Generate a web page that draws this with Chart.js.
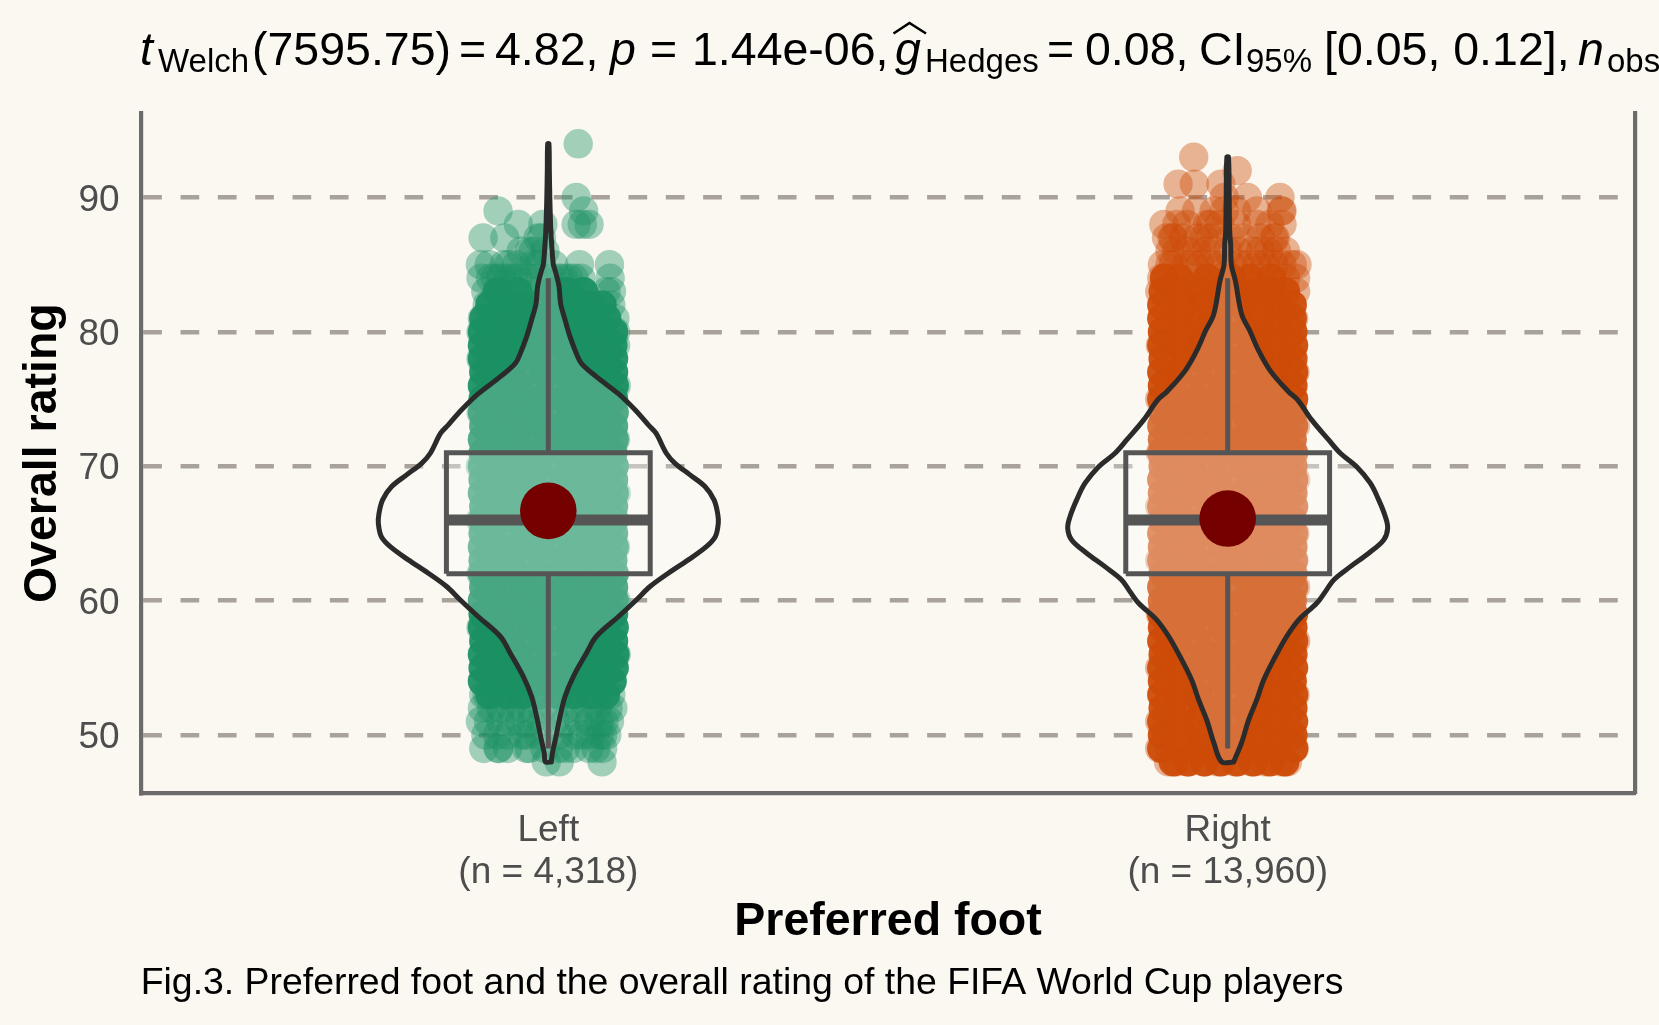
<!DOCTYPE html>
<html>
<head>
<meta charset="utf-8">
<title>Preferred foot and overall rating</title>
<script src="https://cdn.jsdelivr.net/npm/chart.js@4"></script>
<style>
  html, body { margin: 0; padding: 0; width: 1659px; height: 1025px; overflow: hidden; background: #fbf8f1; }
  #chart { position: absolute; left: 0; top: 0; }
  #stats { position: absolute; left: 0; top: 0; width: 1659px; height: 100px; color: #000; font-family: "Liberation Sans", Arial, sans-serif; }
  #stats span { position: absolute; white-space: pre; top: 26px; font-size: 46.5px; line-height: 46px; }
  #stats span.sub { top: 45px; font-size: 33px; line-height: 32px; }
  #stats span.it { font-style: italic; }
  #stats svg { position: absolute; left: 0; top: 0; }
</style>
</head>
<body>
<canvas id="chart" width="1659" height="1025"></canvas>
<div id="stats">
  <span class="it" style="left:140px">t</span><span class="sub" style="left:158px">Welch</span><span style="left:252px">(7595.75)</span> <span style="left:459px">=</span> <span style="left:495px">4.82,</span> <span class="it" style="left:610px">p</span> <span style="left:650px">=</span> <span style="left:692px">1.44e-06,</span> <span class="it" style="left:895px">g</span><span class="sub" style="left:925px">Hedges</span> <span style="left:1047px">=</span> <span style="left:1085px">0.08,</span> <span style="left:1199px">CI</span><span class="sub" style="left:1246px">95%</span> <span style="left:1324px">[0.05, 0.12],</span> <span class="it" style="left:1578px">n</span><span class="sub" style="left:1607px">obs</span>
  <svg width="1659" height="100"><polyline points="893.5,33.5 909.5,23 926,33.5" fill="none" stroke="#000" stroke-width="2.6"/></svg>
</div>
<script>
const yTicks = [50, 60, 70, 80, 90];
const xTicks = [1, 2];
const xTickLabels = [['Left', '(n = 4,318)'], ['Right', '(n = 13,960)']];

const boxLow = [62, 62];
const boxHigh = [71, 71];
const medians = [66, 66];
const means = [66.68, 66.11];
const whiskerLow = [49, 49];
const whiskerHigh = [84, 84];

// violin outline: rating and half width in category units
const leftViolinY = [48, 48.65, 49.89, 51.37, 52.86, 54.35, 56.09, 57.33, 58.8, 60.05, 61.05, 62.04, 63.03, 64.02, 64.77, 65.76, 66.5, 67.5, 68.49, 69.36, 70.22, 70.97, 72.46, 73.08, 74.2, 75.4, 76.67, 77.66, 78.4, 79.65, 80.9, 82.1, 83.4, 84.6, 85, 86.3, 87.5, 90, 92, 94];
const leftViolinHalf = [.0044, .006, .0113, .0172, .0246, .0368, .056, .0706, .103, .1295, .1497, .1766, .206, .2326, .2458, .2502, .2492, .2439, .2306, .2086, .1865, .1737, .1585, .1472, .1276, .103, .0706, .0486, .0412, .0319, .0246, .0181, .0157, .0099, .0074, .0052, .0037, .0022, .0015, .0009];
const rightViolinY = [48, 49.39, 51.13, 52.61, 54.1, 55.84, 57.33, 58.57, 59.8, 60.67, 61.54, 62.53, 63.53, 64.52, 65.39, 66.25, 67.5, 68.74, 69.97, 70.97, 71.96, 73.45, 74.94, 75.6, 77.1, 78.6, 80.1, 81.3, 83.8, 85, 86.5, 87.5, 90, 93];
const rightViolinHalf = [.0088, .0202, .0309, .0427, .053, .0702, .0868, .1045, .131, .1438, .156, .1806, .2075, .2296, .2355, .2321, .2223, .21, .1899, .1659, .1487, .1236, .103, .0885, .0628, .0456, .0324, .0206, .0113, .0054, .0044, .0029, .0022, .0012];

// players, jitter in thousandths of a category. The packed rows overplot to a
// nearly solid colour, so they are drawn with a high alpha
const leftSparseRatings = [94, 90, 89, 88, 87, 86, 85, 84, 83, 82, 81, 80, 79, 78, 76, 74, 72, 70, 68, 66, 64, 62, 60, 58, 56, 53, 52, 51, 50, 49, 48];
const leftSparseJitter = [
  [44], [41], [-74, 52], [-44, -8, 41, 50, 60], [-96, -64, -15, -10], [-40, -28, -22, -5],
  [-100, -87, -65, -58, -47, -22, -14, 8, 46, 90],
  [-99, -85, -78, -70, -60, -52, -45, -30, -22, -12, 5, 15, 22, 30, 38, 48, 91],
  [-92, -66, -15, 15, 45, 85, 93], [-90, 92], [-97, 98], [-99, 99], [99], [-99], [100], [-99], [99], [-100], [100], [-100], [99], [-99], [100], [-99], [100],
  [-95, -90, -70, -48, 20, 70, 92],
  [-97, -84, -70, -55, -40, -25, -8, 8, 30, 45, 60, 72, 88, 95],
  [-100, -88, -70, -55, -42, -25, -10, 10, 25, 45, 60, 75, 82, 90],
  [-92, -75, -60, -38, -32, -15, 15, 40, 50, 62, 75, 80, 86],
  [-95, -74, -73, -60, -32, -28, -5, 15, 25, 37, 60, 70, 80],
  [-3, 16, 79]
];
const leftDenseRatings = [53, 54, 55, 56, 57, 58, 59, 60, 61, 62, 63, 64, 65, 66, 67, 68, 69, 70, 71, 72, 73, 74, 75, 76, 77, 78, 79, 80, 81, 82, 83];
const leftDenseJitter = [
  [-86, -60, -38, -12, 14, 38, 62, 84], [-97, -70, -42, -12, 18, 45, 71, 94],
  [-96, -66, -39, -10, 22, 48, 73, 97], [-97, -72, -44, -15, 16, 43, 70, 98],
  [-95, -68, -36, -8, 24, 50, 75, 96], [-97, -71, -41, -14, 19, 46, 72, 97],
  [-96, -64, -38, -9, 20, 47, 74, 96], [-97, -69, -43, -13, 17, 44, 71, 97],
  [-95, -67, -37, -11, 23, 49, 76, 96], [-97, -73, -45, -16, 15, 42, 69, 97],
  [-96, -65, -40, -7, 21, 48, 72, 95], [-97, -70, -42, -12, 18, 45, 73, 97],
  [-96, -68, -35, -10, 25, 51, 75, 96], [-97, -72, -44, -14, 16, 43, 70, 97],
  [-95, -66, -39, -9, 20, 47, 74, 96], [-97, -71, -41, -13, 19, 46, 72, 97],
  [-96, -67, -38, -8, 22, 50, 76, 96], [-97, -69, -43, -15, 17, 44, 71, 97],
  [-96, -64, -37, -11, 24, 49, 73, 95], [-97, -72, -45, -12, 18, 42, 69, 97],
  [-95, -68, -40, -10, 21, 48, 75, 96], [-97, -70, -36, -14, 16, 45, 72, 97],
  [-96, -65, -42, -9, 23, 47, 74, 96], [-97, -71, -44, -13, 19, 43, 70, 97],
  [-95, -67, -38, -7, 20, 50, 76, 96], [-97, -73, -41, -15, 17, 46, 71, 96],
  [-97, -66, -39, -11, 22, 44, 73, 95], [-97, -69, -43, -12, 18, 48, 74, 96],
  [-95, -68, -37, -10, 21, 45, 68, 86], [-86, -62, -40, -14, 14, 38, 60, 79],
  [-75, -45, 5, 28, 52]
];
const rightSparseRatings = [93, 92, 91, 90, 89, 88, 87, 86, 85, 84, 83, 81, 79, 77, 75, 73, 71, 69, 67, 65, 63, 61, 59, 57, 55, 53, 51, 49, 48];
const rightSparseJitter = [
  [-50], [14], [-73, -49, -10], [-5, 29, 77], [-70, -46, -20, -5, 13, 43, 79, 80],
  [-94, -75, -60, -30, -25, -12, 13, 43, 62, 80], [-90, -82, -80, -65, -45, -35, -25, 5, 25, 48, 68, 70],
  [-85, -75, -60, -45, -32, -20, 0, 15, 37, 48, 60, 72, 85], [-96, -85, -80, -60, -50, -40, -25, -10, 5, 18, 30, 43, 55, 68, 80, 95, 102],
  [-97, -48, -10, 48, 85, 100], [-100, 100], [97], [-99], [99], [-100], [100], [-99], [100], [-100], [99], [-100], [100], [-99], [100], [-100], [99], [-100],
  [-100, -85, 98], [-87, -75, -60, -35, -15, 10, 35, 55, 78, 88]
];
const rightDenseRatings = [48, 49, 50, 51, 52, 53, 54, 55, 56, 57, 58, 59, 60, 61, 62, 63, 64, 65, 66, 67, 68, 69, 70, 71, 72, 73, 74, 75, 76, 77, 78, 79, 80, 81, 82, 83, 84];
const rightDenseJitter = [
  [-80, -58, -34, -10, 14, 38, 62, 84], [-97, -68, -40, -12, 18, 44, 72, 97],
  [-96, -66, -38, -9, 21, 47, 74, 96], [-97, -71, -43, -14, 17, 45, 70, 97],
  [-95, -67, -37, -10, 24, 49, 75, 96], [-97, -72, -44, -15, 16, 42, 71, 97],
  [-96, -65, -39, -8, 20, 48, 73, 95], [-97, -70, -42, -13, 19, 46, 72, 97],
  [-95, -68, -36, -11, 23, 50, 76, 96], [-97, -73, -45, -14, 15, 43, 69, 97],
  [-96, -64, -40, -7, 22, 47, 74, 96], [-97, -69, -41, -12, 18, 44, 71, 97],
  [-96, -67, -38, -10, 25, 51, 73, 95], [-97, -71, -43, -16, 17, 45, 72, 97],
  [-95, -66, -37, -9, 21, 48, 75, 96], [-97, -72, -44, -13, 19, 42, 70, 97],
  [-96, -65, -39, -8, 20, 49, 76, 96], [-97, -70, -42, -15, 16, 46, 71, 97],
  [-95, -68, -36, -11, 24, 47, 74, 95], [-97, -73, -45, -12, 18, 43, 69, 97],
  [-96, -64, -40, -10, 22, 50, 73, 96], [-97, -69, -41, -14, 17, 44, 72, 97],
  [-95, -67, -38, -7, 23, 48, 75, 96], [-97, -71, -43, -13, 19, 45, 70, 97],
  [-96, -66, -37, -9, 21, 47, 74, 95], [-97, -72, -44, -15, 16, 42, 71, 97],
  [-95, -65, -39, -11, 25, 51, 76, 96], [-97, -70, -42, -12, 18, 46, 73, 97],
  [-96, -68, -36, -8, 20, 49, 72, 96], [-97, -73, -45, -14, 17, 43, 69, 97],
  [-95, -64, -40, -10, 22, 48, 75, 96], [-97, -69, -41, -13, 19, 44, 71, 97],
  [-96, -67, -38, -9, 24, 50, 74, 96], [-97, -71, -43, -15, 16, 45, 72, 95],
  [-97, -66, -37, -11, 21, 47, 73, 95], [-95, -68, -40, -12, 18, 42, 65, 85],
  [-93, -72, -30, 5, 32, 65]
];

const bg = '#fbf8f1';
const leftColor = '#1b9063', rightColor = '#cd4b07';
const font = '"Liberation Sans", Arial, sans-serif';

const swarmPoints = (center, ratings, jitter) =>
    ratings.flatMap((rating, i) => jitter[i].map(j => ({ x: center + j / 1000, y: rating })));

const outline = (center, ys, halves) => [
    ...ys.map((y, i) => ({ x: center + halves[i], y })),
    ...ys.map((y, i) => ({ x: center - halves[i], y })).reverse()
];

const lineSet = (data, color, width, extra) => Object.assign({
    data, showLine: true, borderColor: color, borderWidth: width, pointRadius: 0, backgroundColor: 'transparent'
}, extra);

const groupSets = (i, color, sparseR, sparseJ, denseR, denseJ, vy, vh) => {
    const c = xTicks[i];
    const boxHalf = 0.15;
    return [
        { data: swarmPoints(c, sparseR, sparseJ), pointRadius: 14.7, pointBorderWidth: 0, backgroundColor: color + '66' },
        { data: swarmPoints(c, denseR, denseJ), pointRadius: 14.7, pointBorderWidth: 0, backgroundColor: color + 'f0' },
        lineSet(outline(c, vy, vh).concat([{ x: c + vh[0], y: vy[0] }]), '#2b2b2b', 5,
            { fill: 'shape', backgroundColor: 'rgba(255,255,255,0.2)', tension: 0.35, borderCapStyle: 'round', borderJoinStyle: 'round' }),
        lineSet([{ x: c, y: whiskerLow[i] }, { x: c, y: boxLow[i] }], '#555555', 5),
        lineSet([{ x: c, y: boxHigh[i] }, { x: c, y: whiskerHigh[i] }], '#555555', 5),
        lineSet([
            { x: c - boxHalf, y: boxLow[i] }, { x: c + boxHalf, y: boxLow[i] },
            { x: c + boxHalf, y: boxHigh[i] }, { x: c - boxHalf, y: boxHigh[i] }, { x: c - boxHalf, y: boxLow[i] }
        ], '#555555', 5, { fill: 'shape', backgroundColor: 'rgba(255,255,255,0.2)', borderJoinStyle: 'miter' }),
        lineSet([{ x: c - boxHalf, y: medians[i] }, { x: c + boxHalf, y: medians[i] }], '#555555', 11),
        { data: [{ x: c, y: means[i] }], pointRadius: 28.3, pointBorderWidth: 0, backgroundColor: '#750000' }
    ];
};

// chart.js paints the first dataset last, so the list is reversed
const datasets = [
    ...groupSets(0, leftColor, leftSparseRatings, leftSparseJitter, leftDenseRatings, leftDenseJitter, leftViolinY, leftViolinHalf),
    ...groupSets(1, rightColor, rightSparseRatings, rightSparseJitter, rightDenseRatings, rightDenseJitter, rightViolinY, rightViolinHalf)
].reverse();

const backgroundPlugin = {
    id: 'pageBackground',
    beforeDraw(chart) {
        chart.ctx.save();
        chart.ctx.fillStyle = bg;
        chart.ctx.fillRect(0, 0, chart.width, chart.height);
        chart.ctx.restore();
    }
};

new Chart(document.getElementById('chart').getContext('2d'), {
    type: 'scatter',
    data: { datasets },
    plugins: [backgroundPlugin],
    options: {
        responsive: false,
        animation: false,
        events: [],
        // the big mean dots would otherwise pad the chart area
        layout: { autoPadding: false, padding: { left: 0, right: 23.7, top: 113, bottom: 0 } },
        plugins: {
            legend: { display: false },
            tooltip: { enabled: false },
            title: { display: false },
            subtitle: {
                display: true,
                position: 'bottom',
                align: 'start',
                fullSize: false,
                text: 'Fig.3. Preferred foot and the overall rating of the FIFA World Cup players',
                color: '#000000',
                font: { family: font, size: 37.4, lineHeight: 1.2 },
                padding: { top: 0, bottom: 18.6 }
            }
        },
        scales: {
            x: {
                type: 'linear',
                min: 0.4,
                max: 2.6,
                afterBuildTicks(scale) { scale.ticks = xTicks.map(value => ({ value })); },
                afterFit(scale) {
                    scale.height = 168.2;
                    scale.paddingLeft = 0;
                    scale.paddingRight = 0;
                },
                grid: { display: false, drawTicks: false },
                border: { display: true, color: '#6b6b6b', width: 4.2 },
                ticks: {
                    autoSkip: false,
                    maxRotation: 0,
                    padding: 17,
                    color: '#4d4d4d',
                    font: { family: font, size: 37, lineHeight: 1.127 },
                    callback: value => xTickLabels[xTicks.indexOf(value)]
                },
                title: {
                    display: true,
                    text: 'Preferred foot',
                    color: '#000000',
                    font: { family: font, size: 46.5, weight: 'bold', lineHeight: 1.2 },
                    padding: { top: 0, bottom: 11.4 }
                }
            },
            y: {
                type: 'linear',
                min: 45.66,
                max: 96.29,
                afterBuildTicks(scale) { scale.ticks = yTicks.map(value => ({ value })); },
                afterFit(scale) { scale.width = 140.7; },
                grid: { color: '#a8a29b', lineWidth: 4.5, drawTicks: false },
                border: { display: true, color: '#6b6b6b', width: 4.2, dash: [18.7, 18.63] },
                ticks: {
                    padding: 21,
                    labelOffset: 3,
                    color: '#4d4d4d',
                    font: { family: font, size: 37 }
                },
                title: {
                    display: true,
                    text: 'Overall rating',
                    color: '#000000',
                    font: { family: font, size: 46.5, weight: 'bold', lineHeight: 1.2 },
                    padding: { top: 15, bottom: 0 }
                }
            },
            yRight: {
                type: 'linear',
                position: 'right',
                min: 45.66,
                max: 96.29,
                afterFit(scale) { scale.width = 0; },
                grid: { display: false, drawTicks: false },
                border: { display: true, color: '#6b6b6b', width: 4.2 },
                ticks: { display: false }
            }
        }
    }
});
</script>
</body>
</html>
